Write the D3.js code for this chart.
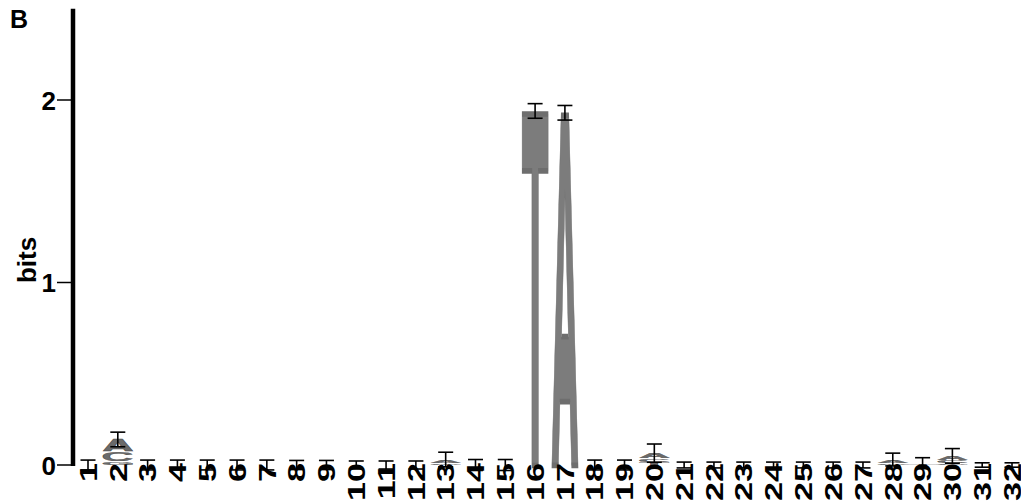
<!DOCTYPE html>
<html>
<head>
<meta charset="utf-8">
<script src="https://cdn.jsdelivr.net/npm/d3@7"></script>
<style>
  body { margin: 0; background: #fff; }
  svg { display: block; }
</style>
</head>
<body>
<script>
// positions (tick labels along the bottom)
let positions = ['1','2','3','4','5','6','7','8','9','10','11','12','13','14','15','16',
                 '17','18','19','20','21','22','23','24','25','26','27','28','29','30','31','32'];

// information (bits) per letter, per position
let bitsA = [0, 0.065, 0, 0, 0, 0, 0, 0, 0, 0, 0, 0, 0.02, 0, 0, 0,
             1.93, 0, 0, 0.03, 0, 0, 0, 0, 0, 0, 0, 0.02, 0, 0.025, 0, 0];
let bitsC = [0, 0.055, 0, 0, 0, 0, 0, 0, 0, 0, 0, 0, 0, 0, 0, 0,
             0, 0, 0, 0.02, 0, 0, 0, 0, 0, 0, 0, 0, 0, 0.015, 0, 0];
let bitsG = [0, 0.02, 0, 0, 0, 0, 0, 0, 0, 0, 0, 0, 0.01, 0, 0, 0,
             0, 0, 0, 0, 0, 0, 0, 0, 0, 0, 0, 0.01, 0, 0.01, 0, 0];
let bitsT = [0, 0, 0, 0, 0, 0, 0, 0, 0, 0, 0, 0, 0, 0, 0, 1.94,
             0, 0, 0, 0.015, 0, 0, 0, 0, 0, 0, 0, 0, 0.01, 0, 0, 0];

// error bar half-heights (bits)
let errors = [0.027, 0.04, 0.027, 0.027, 0.027, 0.027, 0.027, 0.025, 0.025, 0.022, 0.022, 0.022,
              0.04, 0.03, 0.03, 0.04, 0.04, 0.027, 0.027, 0.05, 0.016, 0.016, 0.016, 0.016,
              0.016, 0.016, 0.016, 0.035, 0.03, 0.04, 0.012, 0.012];

let yTicks = [0, 1, 2];

let width = 1021, height = 504;
let font = "'Liberation Sans', Arial, Helvetica, sans-serif";
// A reads closer in DejaVu (low crossbar), T in Liberation (thin bar)
let glyphFont = { A: "'DejaVu Sans', sans-serif", C: font, G: font, T: font };

let svg = d3.select('body').append('svg')
  .attr('width', width)
  .attr('height', height);

let x = d3.scaleLinear().domain([1, 32]).range([88, 1012]);
let y = d3.scaleLinear().domain([0, 2.5]).range([465, 8.75]);
let colW = 30, sw = 4;

// ink box of a glyph, found by scanning pixels (units of a 100px font)
let cnv = document.createElement('canvas');
cnv.width = 400; cnv.height = 400;
let ctx = cnv.getContext('2d');
let inkCache = {};
let ink = ch => {
  if (inkCache[ch]) return inkCache[ch];
  ctx.clearRect(0, 0, 400, 400);
  ctx.font = 'bold 200px ' + glyphFont[ch];
  ctx.fillStyle = '#000';
  ctx.fillText(ch, 100, 300);
  let px = ctx.getImageData(0, 0, 400, 400).data;
  let x0 = 400, x1 = 0, y0 = 400, y1 = 0;
  for (let j = 0; j < 400; j++) {
    for (let i = 0; i < 400; i++) {
      if (px[(j * 400 + i) * 4 + 3] > 127) {
        if (i < x0) x0 = i; if (i > x1) x1 = i;
        if (j < y0) y0 = j; if (j > y1) y1 = j;
      }
    }
  }
  inkCache[ch] = { l: (x0 - 100) / 2, r: (x1 + 1 - 100) / 2, a: (300 - y0) / 2, d: (y1 + 1 - 300) / 2 };
  return inkCache[ch];
};

// stacks: smallest at the bottom
let stacks = positions.map((p, i) => {
  let letters = [
    { ch: 'A', v: bitsA[i] }, { ch: 'C', v: bitsC[i] },
    { ch: 'G', v: bitsG[i] }, { ch: 'T', v: bitsT[i] }
  ].filter(d => d.v > 0).sort((a, b) => a.v - b.v);
  let acc = 0;
  letters.forEach(d => { d.y0 = acc; acc += d.v; d.y1 = acc; });
  return { pos: +p, label: p, letters: letters, total: acc, err: errors[i] };
});

let logo = svg.append('g');
stacks.forEach(s => {
  s.letters.forEach(d => {
    let big = d.v > 0.5;
    let pad = big ? sw / 2 : 0.3;
    let h = y(d.y0) - y(d.y1) - 2 * pad;
    if (h < 0.6) return;
    let b = ink(d.ch);
    let sx = (colW - 2 * pad) / (b.r - b.l), sy = h / (b.a + b.d);
    logo.append('g')
      .attr('transform', 'translate(' + (x(s.pos) - colW / 2 + pad) + ',' + (y(d.y1) + pad) + ') scale(' + sx + ',' + sy + ') translate(' + (-b.l) + ',' + b.a + ')')
      .append('text')
      .attr('font-family', glyphFont[d.ch])
      .attr('font-weight', 'bold')
      .attr('font-size', 100)
      .attr('fill', big ? '#7c7c7c' : '#6a6a6a')
      .attr('stroke', big ? '#6e6e6e' : '#444')
      .attr('stroke-width', big ? sw : 0.6)
      .attr('stroke-linejoin', 'miter')
      .style('vector-effect', 'non-scaling-stroke')
      .text(d.ch);
  });
});

// error bars
let eb = svg.append('g').attr('stroke', '#000').attr('stroke-width', 1.6);
stacks.forEach(s => {
  let cx = x(s.pos), top = y(s.total + s.err), bot = y(s.total - s.err);
  eb.append('line').attr('x1', cx).attr('x2', cx).attr('y1', top).attr('y2', bot);
  eb.append('line').attr('x1', cx - 7.5).attr('x2', cx + 7.5).attr('y1', top).attr('y2', top);
  eb.append('line').attr('x1', cx - 7.5).attr('x2', cx + 7.5).attr('y1', bot).attr('y2', bot);
});

// x labels, rotated and stretched
let capH = 17.5, labFs = capH / 0.716;
svg.append('g').selectAll('text')
  .data(stacks)
  .enter().append('text')
  .attr('transform', d => 'translate(' + (x(d.pos) + capH / 2) + ',463) rotate(-90) scale(1.4,1)')
  .attr('text-anchor', 'end')
  .attr('font-family', font)
  .attr('font-weight', 'bold')
  .attr('font-size', labFs)
  .attr('fill', '#000')
  .text(d => d.label);

// y axis
let axis = svg.append('g');
axis.append('line')
  .attr('x1', 73).attr('x2', 73)
  .attr('y1', y(2.5)).attr('y2', y(0) + 1)
  .attr('stroke', '#000').attr('stroke-width', 4.5);
axis.selectAll('.tick').data(yTicks).enter().append('line')
  .attr('x1', 57).attr('x2', 73)
  .attr('y1', d => y(d)).attr('y2', d => y(d))
  .attr('stroke', '#000').attr('stroke-width', 1.5);
axis.selectAll('text').data(yTicks).enter().append('text')
  .attr('x', 56)
  .attr('y', d => y(d) + 9.5)
  .attr('text-anchor', 'end')
  .attr('font-family', font)
  .attr('font-weight', 'bold')
  .attr('font-size', 26)
  .text(d => d);

svg.append('text')
  .attr('transform', 'translate(36,260) rotate(-90)')
  .attr('text-anchor', 'middle')
  .attr('font-family', font)
  .attr('font-weight', 'bold')
  .attr('font-size', 26)
  .text('bits');

svg.append('text')
  .attr('x', 10).attr('y', 28)
  .attr('font-family', font)
  .attr('font-weight', 'bold')
  .attr('font-size', 25)
  .text('B');
</script>
</body>
</html>
